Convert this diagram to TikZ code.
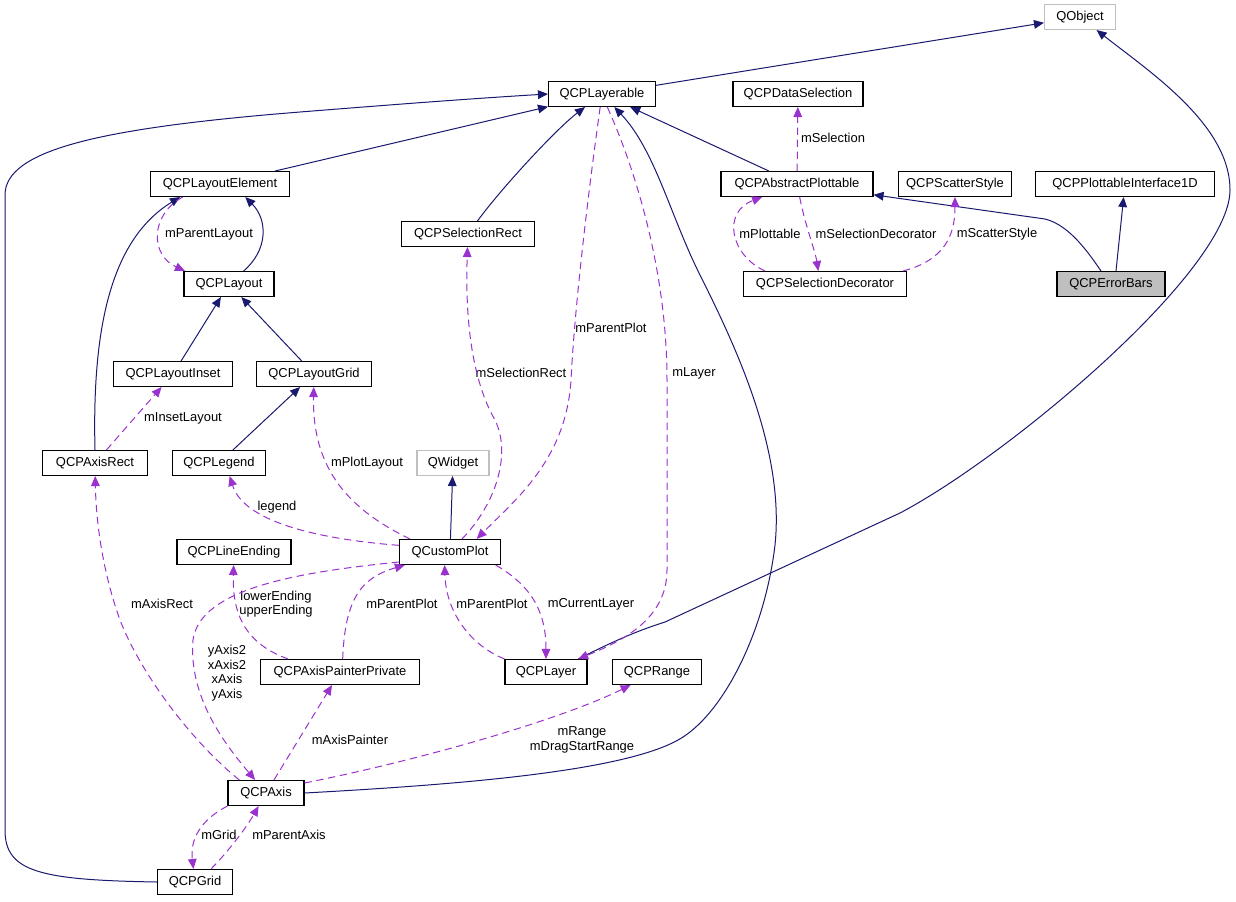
\documentclass[tikz,border=0pt]{standalone}
\usepackage{fontspec}
\setmainfont{Liberation Sans}
\usetikzlibrary{arrows.meta}
\definecolor{inhcol}{HTML}{191970}
\definecolor{usecol}{HTML}{9A32CD}
\definecolor{extgray}{HTML}{BFBFBF}

\begin{document}
\begin{tikzpicture}[x=0.75pt,y=-0.75pt]
        \tikzstyle{cls} = [draw=black,line width=0.8pt,fill=white,minimum height=18.75pt,inner xsep=5pt,inner ysep=0pt,font=\fontsize{9.7}{11}\selectfont]
        \tikzstyle{ext} = [cls,draw=extgray]
        \tikzstyle{focus} = [cls,fill=extgray]
        \tikzstyle{inh} = [draw=inhcol,line width=0.75pt,-{Triangle[length=7.5pt,width=6.5pt]}]
        \tikzstyle{use} = [draw=usecol,line width=0.75pt,dash pattern=on 5.5pt off 3.5pt,-{Triangle[length=7.5pt,width=6.5pt]}]
        \tikzstyle{lbl} = [font=\fontsize{9.7}{11}\selectfont,align=center,inner sep=0pt]

        \useasboundingbox (0,0) rectangle (1236,901);

        \node[ext,minimum width=53.25pt] (qobject) at (1080,17) {QObject};
        \node[cls,minimum width=80.25pt] (layerable) at (602,94) {QCPLayerable};
        \node[cls,minimum width=97.5pt] (dataselection) at (798,94) {QCPDataSelection};
        \node[cls,minimum width=104.25pt] (layoutelement) at (220,184) {QCPLayoutElement};
        \node[cls,minimum width=114pt] (abstractplottable) at (797,184) {QCPAbstractPlottable};
        \node[cls,minimum width=84.75pt] (scatterstyle) at (955,184) {QCPScatterStyle};
        \node[cls,minimum width=134.25pt] (plottableiface) at (1125,184) {QCPPlottableInterface1D};
        \node[cls,minimum width=99.75pt] (selectionrect) at (468,234) {QCPSelectionRect};
        \node[cls,minimum width=67.5pt] (layout) at (229,284) {QCPLayout};
        \node[cls,minimum width=122.25pt] (selectiondeco) at (825,284) {QCPSelectionDecorator};
        \node[focus,minimum width=81pt] (errorbars) at (1111,284) {QCPErrorBars};
        \node[cls,minimum width=89.25pt] (layoutinset) at (173,374) {QCPLayoutInset};
        \node[cls,minimum width=86.25pt] (layoutgrid) at (314,374) {QCPLayoutGrid};
        \node[cls,minimum width=78.75pt] (axisrect) at (95,463) {QCPAxisRect};
        \node[cls,minimum width=69.75pt] (legend) at (219,463) {QCPLegend};
        \node[ext,minimum width=54pt] (qwidget) at (453,463) {QWidget};
        \node[cls,minimum width=85.5pt] (lineending) at (234,552) {QCPLineEnding};
        \node[cls,minimum width=75.75pt] (customplot) at (450,552) {QCustomPlot};
        \node[cls,minimum width=119.25pt] (axispainter) at (340,672) {QCPAxisPainterPrivate};
        \node[cls,minimum width=61.5pt] (layer) at (546,672) {QCPLayer};
        \node[cls,minimum width=66.75pt] (qcprange) at (657,672) {QCPRange};
        \node[cls,minimum width=57pt] (axis) at (266,793) {QCPAxis};
        \node[cls,minimum width=56.25pt] (grid) at (195,882) {QCPGrid};

        \node[lbl] (lParentLayout) at (209,234) {mParentLayout};
        \node[lbl] (lInsetLayout) at (183,418) {mInsetLayout};
        \node[lbl] (lPlotLayout) at (367,463) {mPlotLayout};
        \node[lbl] (lLegend) at (277,507) {legend};
        \node[lbl] (lSelectionRect) at (521,373) {mSelectionRect};
        \node[lbl] (lParentPlotA) at (611,328) {mParentPlot};
        \node[lbl] (lLayer) at (694,373) {mLayer};
        \node[lbl] (lSelection) at (833,138) {mSelection};
        \node[lbl] (lPlottable) at (770,234) {mPlottable};
        \node[lbl] (lSelDeco) at (876,234) {mSelectionDecorator};
        \node[lbl] (lScatter) at (997,234) {mScatterStyle};
        \node[lbl] (lCurLayer) at (591,604) {mCurrentLayer};
        \node[lbl] (lParentPlotB) at (492,604) {mParentPlot};
        \node[lbl] (lParentPlotC) at (402,604) {mParentPlot};
        \node[lbl] (lEnding) at (276,604) {lowerEnding\\upperEnding};
        \node[lbl] (lAxes) at (227,673) {yAxis2\\xAxis2\\xAxis\\yAxis};
        \node[lbl] (lAxisRect) at (162,604) {mAxisRect};
        \node[lbl] (lAxisPainter) at (350,740) {mAxisPainter};
        \node[lbl] (lRange) at (582,740) {mRange\\mDragStartRange};
        \node[lbl] (lGrid) at (219,835) {mGrid};
        \node[lbl] (lParentAxis) at (289,835) {mParentAxis};

        \draw[inh] (layerable) -- (qobject);
        \draw[inh] (layoutelement) -- (layerable);
        \draw[inh] (selectionrect) .. controls (500,190) and (555,130) .. (layerable);
        \draw[inh] (abstractplottable) -- (layerable);
        \draw[inh] (axis.east) .. controls (450,785) and (630,772) .. (683,737) .. controls (725,710) and (765,630) .. (775,545) .. controls (785,450) and (735,345) .. (700,275) .. controls (670,215) and (655,150) .. (layerable);
        \draw[inh] (grid.west) .. controls (40,880) and (5,872) .. (5,830) -- (5,195) .. controls (5,150) and (100,128) .. (300,112) .. controls (400,104) and (480,98) .. (layerable.west);
        \draw[inh] ([xshift=11pt]layout.north) .. controls (268,250) and (268,220) .. ([xshift=19pt]layoutelement.south);
        \draw[inh] (axisrect.north) .. controls (92,330) and (110,240) .. ([xshift=-30pt]layoutelement.south);
        \draw[inh] (layoutinset) -- (layout);
        \draw[inh] (layoutgrid) -- (layout);
        \draw[inh] (legend) -- (layoutgrid);
        \draw[inh] (customplot) -- (qwidget);
        \draw[inh] ([xshift=-7.5pt]errorbars.north) .. controls (1090,255) and (1070,225) .. (1045,219) -- (abstractplottable);
        \draw[inh] ([xshift=3.75pt]errorbars.north) -- (plottableiface);
        \draw[inh] ([xshift=-7pt]layer.north east) .. controls (620,638) and (640,630) .. (665,622) -- (900,513) .. controls (1010,455) and (1230,270) .. (1230,190) .. controls (1230,125) and (1150,72) .. (qobject);

        \draw[use] ([xshift=-28pt]layoutelement.south) .. controls (150,215) and (150,255) .. ([xshift=-33pt]layout.north);
        \draw[use] (axisrect) -- (layoutinset);
        \draw[use] ([xshift=-30pt]customplot.north) .. controls (350,510) and (312,470) .. (layoutgrid);
        \draw[use] ([yshift=5pt]customplot.west) .. controls (330,540) and (245,525) .. ([xshift=8pt]legend.south);
        \draw[use] ([xshift=9pt]customplot.north) .. controls (495,505) and (512,455) .. (495,420) .. controls (472,380) and (465,320) .. (selectionrect);
        \draw[use] (layerable) .. controls (590,180) and (575,300) .. (571,380) .. controls (566,460) and (515,500) .. ([xshift=20pt]customplot.north);
        \draw[use] ([xshift=4pt]layerable.south) .. controls (640,180) and (667,280) .. (667,380) -- (667,570) .. controls (667,620) and (620,642) .. (layer);
        \draw[use] (abstractplottable) -- (dataselection);
        \draw[use] ([xshift=-45pt]selectiondeco.north) .. controls (730,255) and (722,212) .. (abstractplottable);
        \draw[use] ([xshift=2pt]abstractplottable.south) .. controls (805,225) and (815,250) .. ([xshift=-5pt]selectiondeco.north);
        \draw[use] ([xshift=-3pt]selectiondeco.north east) .. controls (945,260) and (955,235) .. (scatterstyle);
        \draw[use] ([xshift=-4pt]customplot.south east) .. controls (530,585) and (546,610) .. (layer);
        \draw[use] (layer.north west) .. controls (470,645) and (446,612) .. ([xshift=-4pt]customplot.south);
        \draw[use] ([xshift=2pt]axispainter.north) .. controls (345,600) and (360,578) .. (customplot);
        \draw[use] ([xshift=-39pt]axispainter.north) .. controls (250,645) and (232,620) .. (lineending);
        \draw[use] ([yshift=-7.5pt]customplot.west) .. controls (300,572) and (200,588) .. (193,640) .. controls (188,700) and (230,750) .. (axis);
        \draw[use] ([xshift=-20pt]axis.north) .. controls (190,740) and (140,672) .. (120,620) .. controls (102,570) and (96,520) .. (axisrect);
        \draw[use] (axis) -- (axispainter);
        \draw[use] ([yshift=7.5pt]axis.east) .. controls (420,760) and (560,720) .. (qcprange);
        \draw[use] (axis.south west) .. controls (200,820) and (190,840) .. (grid);
        \draw[use] ([xshift=12pt]grid.north) .. controls (225,855) and (245,830) .. (axis);
\end{tikzpicture}
\end{document}
